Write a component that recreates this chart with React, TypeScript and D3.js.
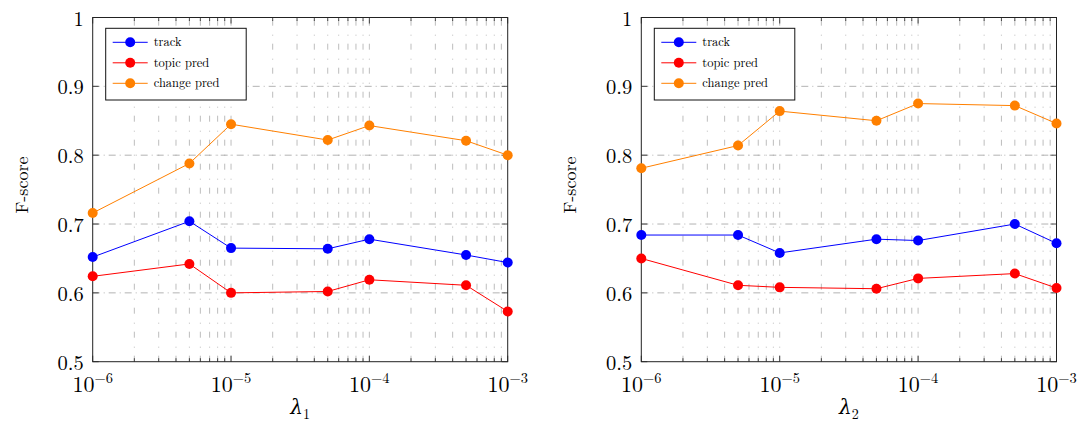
import React, { useEffect, useRef } from 'react';
import * as d3 from 'd3';

const lambdas = [1e-6, 5e-6, 1e-5, 5e-5, 1e-4, 5e-4, 1e-3];
const seriesNames = ['track', 'topic pred', 'change pred'];
const seriesColors = ['#0000ff', '#ff0000', '#ff8000'];

// panel 1 (lambda_1)
const track1 = [0.652, 0.704, 0.665, 0.664, 0.678, 0.655, 0.644];
const topic1 = [0.624, 0.642, 0.600, 0.602, 0.619, 0.611, 0.573];
const change1 = [0.716, 0.788, 0.845, 0.822, 0.843, 0.821, 0.800];

// panel 2 (lambda_2)
const track2 = [0.684, 0.684, 0.658, 0.678, 0.676, 0.700, 0.672];
const topic2 = [0.650, 0.611, 0.608, 0.606, 0.621, 0.628, 0.607];
const change2 = [0.781, 0.814, 0.864, 0.850, 0.875, 0.872, 0.846];

const yTicks = [0.5, 0.6, 0.7, 0.8, 0.9, 1];
const yTickLabels = ['0.5', '0.6', '0.7', '0.8', '0.9', '1'];
const xMajor = [1e-6, 1e-5, 1e-4, 1e-3];
const xExponents = ['−6', '−5', '−4', '−3'];

const FONT = '"Latin Modern Roman", "DejaVu Serif", serif';

function drawPanel(svg, left, right, series, sub) {
  const top = 17.5, bottom = 361.7;
  const x = d3.scaleLog().domain([1e-6, 1e-3]).range([left, right]);
  const y = d3.scaleLinear().domain([0.5, 1]).range([bottom, top]);
  const g = svg.append('g');

  // minor x values
  const minor = [];
  [1e-6, 1e-5, 1e-4].forEach(d => {
    for (let k = 2; k <= 9; k++) minor.push(d * k);
  });

  // vertical grid (minor + major)
  g.selectAll('.vgrid')
    .data(minor.concat([1e-5, 1e-4]))
    .join('line')
    .attr('x1', d => x(d)).attr('x2', d => x(d))
    .attr('y1', bottom).attr('y2', top)
    .attr('stroke', '#b5b5b5').attr('stroke-width', 0.9)
    .attr('stroke-dasharray', '6 8 1 9');

  // horizontal grid
  g.selectAll('.hgrid')
    .data(yTicks.slice(1, 5))
    .join('line')
    .attr('x1', left).attr('x2', right)
    .attr('y1', d => y(d)).attr('y2', d => y(d))
    .attr('stroke', '#a0a0a0').attr('stroke-width', 0.8)
    .attr('stroke-dasharray', '7 4 1 4');

  // ticks
  const tk = g.append('g').attr('stroke', '#222').attr('stroke-width', 0.8);
  minor.forEach(d => {
    tk.append('line').attr('x1', x(d)).attr('x2', x(d)).attr('y1', bottom).attr('y2', bottom - 3.5);
    tk.append('line').attr('x1', x(d)).attr('x2', x(d)).attr('y1', top).attr('y2', top + 3.5);
  });
  xMajor.forEach(d => {
    tk.append('line').attr('x1', x(d)).attr('x2', x(d)).attr('y1', bottom).attr('y2', bottom - 6);
    tk.append('line').attr('x1', x(d)).attr('x2', x(d)).attr('y1', top).attr('y2', top + 6);
  });
  yTicks.forEach(d => {
    tk.append('line').attr('x1', left).attr('x2', left + 6).attr('y1', y(d)).attr('y2', y(d));
    tk.append('line').attr('x1', right).attr('x2', right - 6).attr('y1', y(d)).attr('y2', y(d));
  });

  // frame
  g.append('rect')
    .attr('x', left).attr('y', top)
    .attr('width', right - left).attr('height', bottom - top)
    .attr('fill', 'none').attr('stroke', '#222').attr('stroke-width', 1);

  // tick labels
  g.selectAll('.ylab')
    .data(yTicks)
    .join('text')
    .attr('x', left - 9).attr('y', d => y(d) + 8)
    .attr('text-anchor', 'end')
    .attr('font-family', FONT).attr('font-size', 20.5)
    .text((d, i) => yTickLabels[i]);

  xMajor.forEach((d, i) => {
    const t = g.append('text')
      .attr('x', x(d)).attr('y', bottom + 30)
      .attr('text-anchor', 'middle')
      .attr('font-family', FONT).attr('font-size', 22);
    t.append('tspan').text('10');
    t.append('tspan').attr('dy', -9).attr('font-size', 14.5).text(xExponents[i]);
  });

  // axis labels
  const xl = g.append('text')
    .attr('x', (left + right) / 2).attr('y', bottom + 52)
    .attr('text-anchor', 'middle')
    .attr('font-family', FONT).attr('font-size', 20);
  xl.append('tspan').attr('font-style', 'italic').text('λ');
  xl.append('tspan').attr('dy', 5).attr('font-size', 14).text(sub);

  g.append('text')
    .attr('transform', `translate(${left - 65}, 185) rotate(-90)`)
    .attr('text-anchor', 'middle')
    .attr('font-family', FONT).attr('font-size', 18)
    .text('F-score');

  // lines and markers
  const line = d3.line().x((d, i) => x(lambdas[i])).y(d => y(d));
  series.forEach((vals, si) => {
    g.append('path')
      .attr('d', line(vals))
      .attr('fill', 'none')
      .attr('stroke', seriesColors[si]).attr('stroke-width', 1);
    g.selectAll('.pt' + si)
      .data(vals)
      .join('circle')
      .attr('cx', (d, i) => x(lambdas[i])).attr('cy', d => y(d))
      .attr('r', 5).attr('fill', seriesColors[si]);
  });

  // legend
  const lx = left + 13, ly = 28.3, lw = 140.5, lh = 71.7;
  const lg = g.append('g');
  lg.append('rect')
    .attr('x', lx).attr('y', ly).attr('width', lw).attr('height', lh)
    .attr('fill', 'white').attr('stroke', '#111').attr('stroke-width', 1);
  seriesNames.forEach((name, i) => {
    const cy = ly + 14 + i * 20.5;
    lg.append('line')
      .attr('x1', lx + 7).attr('x2', lx + 42).attr('y1', cy).attr('y2', cy)
      .attr('stroke', seriesColors[i]).attr('stroke-width', 1);
    lg.append('circle').attr('cx', lx + 24.5).attr('cy', cy).attr('r', 5).attr('fill', seriesColors[i]);
    lg.append('text')
      .attr('x', lx + 48).attr('y', cy + 4)
      .attr('font-family', FONT).attr('font-size', 12.5)
      .text(name);
  });
}

export default function App() {
  const ref = useRef(null);
  useEffect(() => {
    const svg = d3.select(ref.current);
    svg.selectAll('*').remove();
    drawPanel(svg, 92.7, 507.7, [track1, topic1, change1], '1');
    drawPanel(svg, 641.3, 1056.5, [track2, topic2, change2], '2');
  }, []);
  return (
    <svg ref={ref} width={1085} height={424}
      style={{ position: 'absolute', left: 0, top: 0, background: 'white' }} />
  );
}
